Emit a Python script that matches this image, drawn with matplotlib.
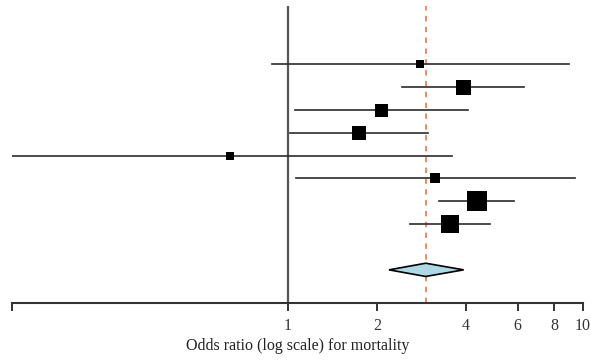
import matplotlib
matplotlib.use("Agg")
import matplotlib.pyplot as plt
from matplotlib.patches import Polygon

# Study estimates (odds ratios, log scale)
est = [2.81, 3.91, 2.07, 1.74, 0.636, 3.16, 4.36, 3.53]
lower = [0.883, 2.43, 1.056, 1.016, 0.10, 1.064, 3.24, 2.59]
upper = [8.99, 6.33, 4.06, 2.99, 3.59, 9.42, 5.84, 4.84]
weights = [7.5, 15, 13, 14, 8, 10, 19.5, 18.5]  # relative box sizes

# Pooled summary
pooled_est = 2.93
pooled_lo = 2.20
pooled_hi = 3.94

tick_vals = [1, 2, 4, 6, 8, 10]
tick_labels = ["1", "2", "4", "6", "8", "10"]
xlim = (0.116, 10)
xlabel = "Odds ratio (log scale) for mortality"

plt.rcParams['font.family'] = ['Liberation Serif', 'DejaVu Serif']

fig = plt.figure(figsize=(5.91, 3.61), dpi=100)
ax = fig.add_axes([12 / 591, 1 - 303 / 361, (583 - 12) / 591, (303 - 6) / 361])
ax.set_xscale('log')
ax.set_xlim(*xlim)

n = len(est)
rows = list(range(1, n + 1))
pooled_row = n + 2
ax.set_ylim(11.45, -1.54)

ax.axvline(1, color='#555555', lw=1.6, zorder=1)
ax.axvline(pooled_est, color='#EE7F5E', lw=1.3, ls=(0, (3, 3)), zorder=1)

for r, e, lo, hi, w in zip(rows, est, lower, upper, weights):
    ax.plot([lo, hi], [r, r], color='#333333', lw=1.25, zorder=2, clip_on=True)
    ax.plot([e], [r], marker='s', color='black', markersize=w * 72 / 100,
            markeredgewidth=0, zorder=3, linestyle='none')

h = 0.29
diamond = Polygon([[pooled_lo, pooled_row], [pooled_est, pooled_row - h],
                   [pooled_hi, pooled_row], [pooled_est, pooled_row + h]],
                  closed=True, facecolor='#ADD8E6', edgecolor='black', lw=1.2, zorder=3)
ax.add_patch(diamond)

for s in ['top', 'right', 'left']:
    ax.spines[s].set_visible(False)
ax.spines['bottom'].set_color('#333333')
ax.spines['bottom'].set_linewidth(1.5)
ax.set_yticks([])
ax.xaxis.set_minor_locator(matplotlib.ticker.NullLocator())
ax.set_xticks([xlim[0]] + tick_vals)
ax.set_xticklabels([""] + tick_labels)
ax.tick_params(axis='x', direction='out', length=6, width=1.4, color='#333333',
               labelsize=11.5, labelcolor='#333333', pad=5)
ax.set_xlabel(xlabel, fontsize=11.5, color='#222222', labelpad=3)

fig.savefig("out.png", dpi=100)
